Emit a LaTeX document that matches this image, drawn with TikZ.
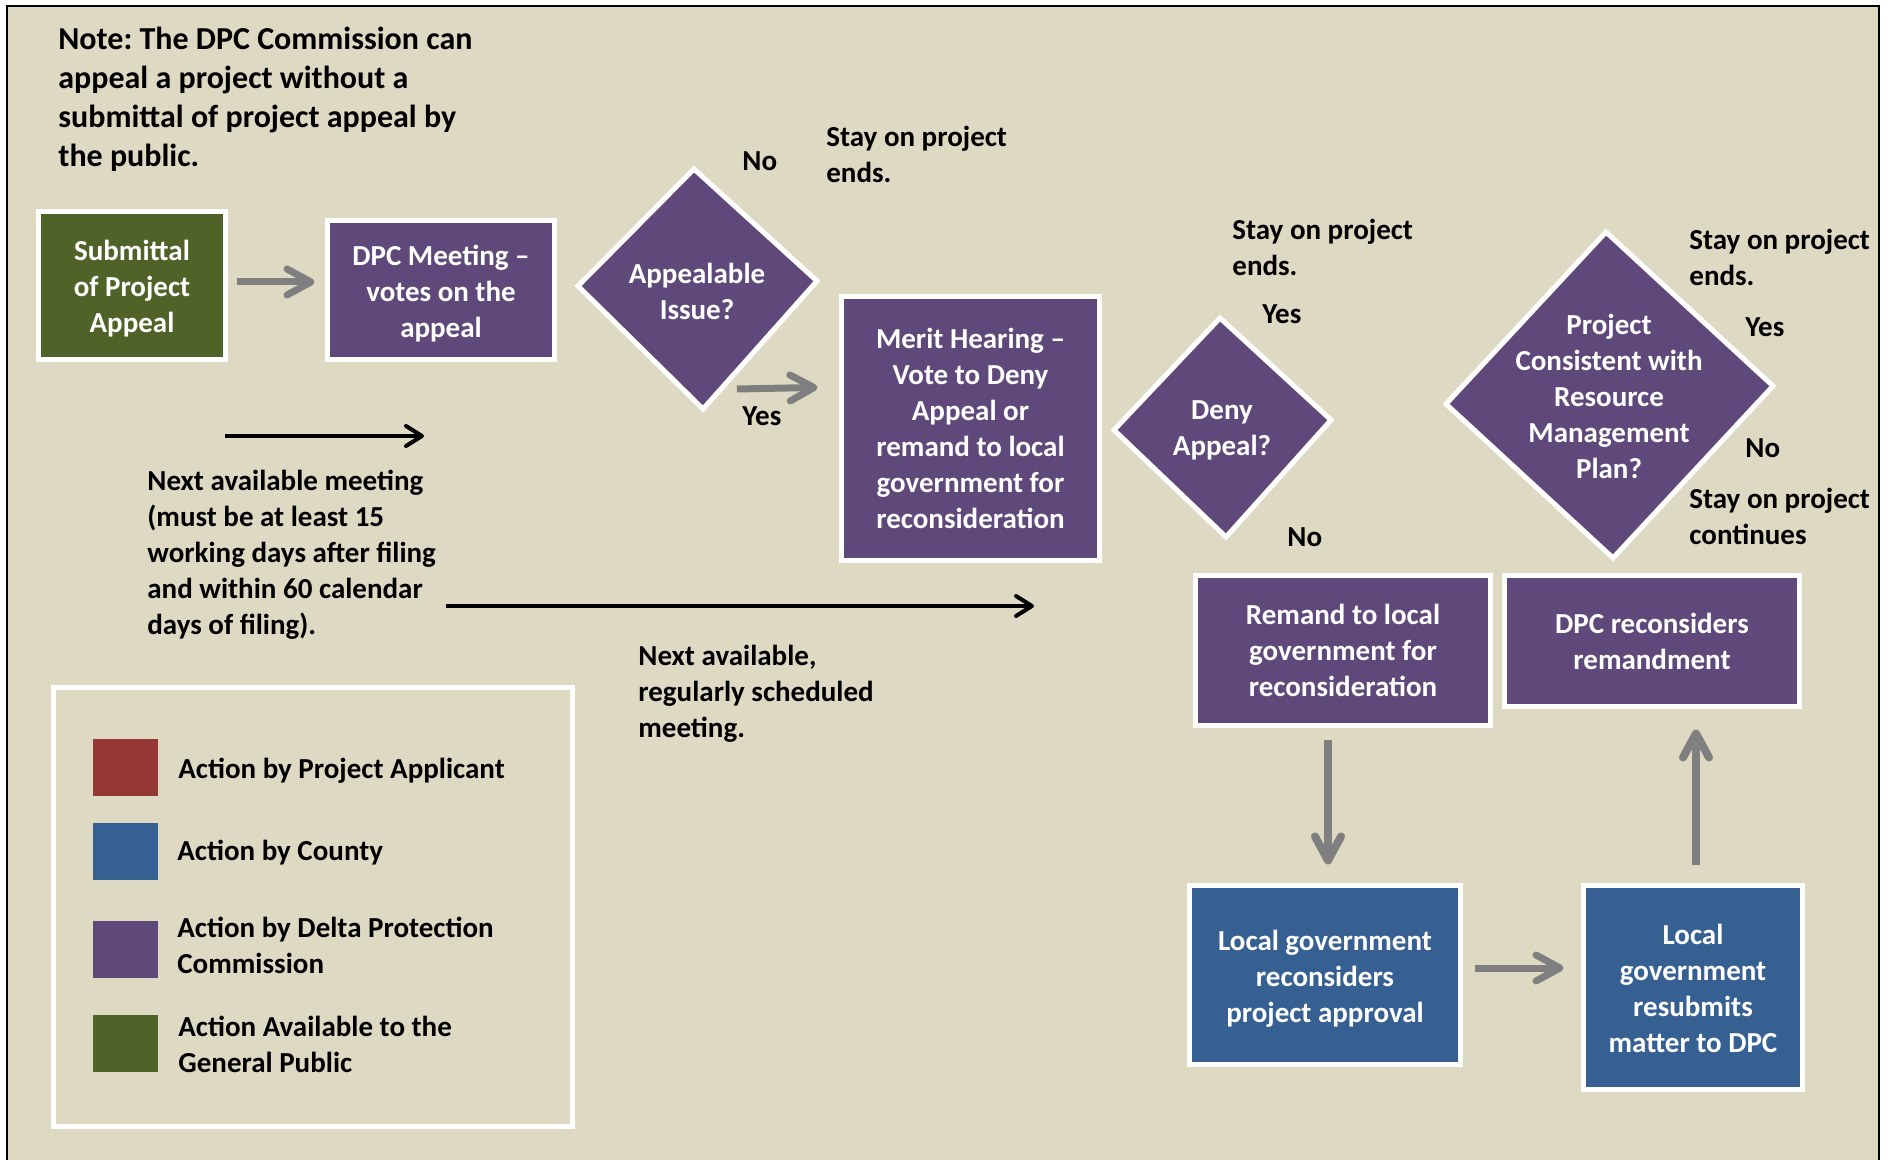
\documentclass[tikz,border=0pt]{standalone}
\usepackage{fontspec}
\setmainfont{Carlito}
\usetikzlibrary{arrows.meta}
\definecolor{bgc}{HTML}{DDD9C3}
\definecolor{grn}{HTML}{4F6228}
\definecolor{pur}{HTML}{5F497A}
\definecolor{blu}{HTML}{366092}
\definecolor{redc}{HTML}{953735}
\definecolor{agray}{HTML}{7F7F7F}
\frenchspacing
\begin{document}
\begin{tikzpicture}[x=0.5pt,y=-0.5pt,
  box/.style={draw=white, line width=2.5pt, inner sep=0pt, text=white, align=center,
    font=\bfseries\fontsize{14.5}{18}\selectfont},
  diam/.style={fill=pur, draw=white, line width=2.5pt, line join=miter},
  dtext/.style={inner sep=0pt, text=white, align=center, font=\bfseries\fontsize{14.5}{18}\selectfont},
  lbl/.style={anchor=west, align=left, inner sep=0pt, text=black, font=\bfseries\fontsize{14.5}{18}\selectfont},
  sq/.style={minimum width=32.5pt, minimum height=28.5pt, inner sep=0pt, draw=none},
  garrow/.style={draw=agray, line width=3.5pt, -{Straight Barb[length=12pt,width=13pt,round]}},
  garrowv/.style={draw=agray, line width=4pt, -{Straight Barb[length=12pt,width=13pt,round]}},
  barrow/.style={draw=black, line width=2pt, -{Straight Barb[length=8pt,width=10pt,round]}}
]
\useasboundingbox (0,0) rectangle (1890,1160);
\fill[white] (0,0) rectangle (1890,1160);
\fill[bgc] (7,6) rectangle (1879,1160);
\draw[line width=1.25pt] (7,1160) -- (7,6) -- (1879,6) -- (1879,1160);

% note
\node[lbl, font=\bfseries\fontsize{16}{19.5}\selectfont] (note) at (58,99)
  {Note: The DPC Commission can\\appeal a project without a\\submittal of project appeal by\\the public.};

% boxes
\node[box, fill=grn, minimum width=93.5pt, minimum height=74pt] (sub) at (132,285.5) {};
\node[box, draw=none, fill=none] (subt) at (132,289) {Submittal\\of Project\\Appeal};
\node[box, fill=pur, minimum width=113.5pt, minimum height=69.5pt] (dpc) at (441,290) {};
\node[box, draw=none, fill=none] (dpct) at (441,293.5) {DPC Meeting –\\votes on the\\appeal};
\node[box, fill=pur, minimum width=129pt, minimum height=132pt] (merit) at (970.5,428.5) {Merit Hearing –\\Vote to Deny\\Appeal or\\remand to local\\government for\\reconsideration};
\node[box, fill=pur, minimum width=147.5pt, minimum height=75pt] (remand) at (1343,650.5) {Remand to local\\government for\\reconsideration};
\node[box, fill=pur, minimum width=147.5pt, minimum height=65.5pt] (dpcr) at (1652,641) {DPC reconsiders\\remandment};
\node[box, fill=blu, minimum width=135.5pt, minimum height=89.5pt] (localrec) at (1325,975) {};
\node[box, draw=none, fill=none] (localrect) at (1325,979) {Local government\\reconsiders\\project approval};
\node[box, fill=blu, minimum width=109.5pt, minimum height=102pt] (resub) at (1693,987.5) {};
\node[box, draw=none, fill=none] (resubt) at (1693,988.5) {Local\\government\\resubmits\\matter to DPC};

% diamonds
\draw[diam] (694,169) -- (817,281) -- (703,409) -- (578,286) -- cycle;
\node[dtext] (apl) at (697,291.5) {Appealable\\Issue?};
\draw[diam] (1220,318) -- (1331,420) -- (1226,537) -- (1114,430) -- cycle;
\node[dtext] (deny) at (1222,430.5) {Deny\\Appeal?};
\draw[diam] (1606,232) -- (1773,386) -- (1613,558) -- (1446,404) -- cycle;
\node[dtext] (proj) at (1609,396) {Project\\Consistent with\\Resource\\Management\\Plan?};

% labels
\node[lbl] (no1) at (742,161) {No};
\node[lbl] (stay1) at (826,154) {Stay on project\\ends.};
\node[lbl] (yes1) at (742,416) {Yes};
\node[lbl] (stay2) at (1232,247) {Stay on project\\ends.};
\node[lbl] (yes2) at (1262,314) {Yes};
\node[lbl] (no2) at (1287,537) {No};
\node[lbl] (stay3) at (1689,257) {Stay on project\\ends.};
\node[lbl] (yes3) at (1745,327) {Yes};
\node[lbl] (no3) at (1745,448) {No};
\node[lbl] (stay4) at (1689,516.5) {Stay on project\\continues};
\node[lbl] (nam) at (147,555) {Next available meeting\\(must be at least 15\\working days after filing\\and within 60 calendar\\days of filing).};
\node[lbl] (nar) at (638,694) {Next available,\\regularly scheduled\\meeting.};

% legend
\node[draw=white, line width=2.5pt, minimum width=259.5pt, minimum height=219.5pt, inner sep=0pt] (legend) at (313,907) {};
\node[sq, fill=redc] (lr) at (125.5,767.5) {};
\node[sq, fill=blu] (lb) at (125.5,851.5) {};
\node[sq, fill=pur] (lp) at (125.5,949.5) {};
\node[sq, fill=grn] (lg) at (125.5,1043.5) {};
\node[lbl] (tr) at (178,770.5) {Action by Project Applicant};
\node[lbl] (tb) at (177,852.5) {Action by County};
\node[lbl] (tp) at (177,945) {Action by Delta Protection\\Commission};
\node[lbl] (tg) at (178,1044) {Action Available to the\\General Public};

% gray arrows
\draw[garrow, shorten <=4.25pt, shorten >=5.25pt] (sub.east |- 0,282) -- (dpc.west |- 0,282);
\coordinate (yesS) at (737,389);
\draw[garrow, shorten >=10.75pt] (yesS) -- (merit.west |- 0,387);
\draw[garrowv, shorten <=5.75pt, shorten >=9.25pt] (remand.south -| 1328,0) -- (localrec.north -| 1328,0);
\draw[garrow, shorten <=5.75pt, shorten >=8.75pt] (localrec.east |- 0,968) -- (resub.west |- 0,968);
\draw[garrowv, shorten <=9.25pt, shorten >=10.25pt] (resub.north -| 1696,0) -- (dpcr.south -| 1696,0);

% black arrows
\coordinate (b1s) at (225,436);
\coordinate (b1e) at (424,436);
\coordinate (b2s) at (446,606);
\coordinate (b2e) at (1034,606);
\draw[barrow] (b1s) -- (b1e);
\draw[barrow] (b2s) -- (b2e);
\end{tikzpicture}
\end{document}
